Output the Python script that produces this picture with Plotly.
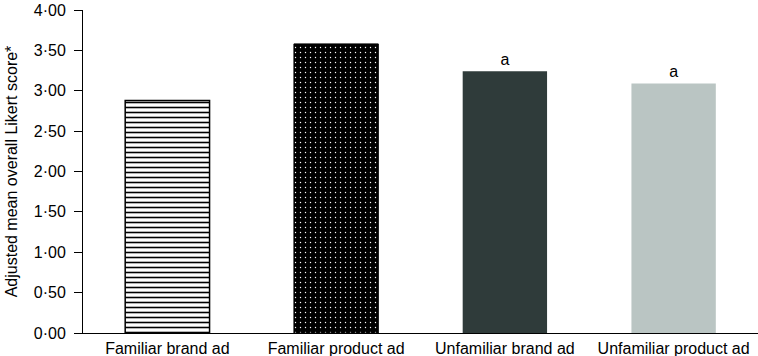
import plotly.graph_objects as go

categories = ["Familiar brand ad", "Familiar product ad", "Unfamiliar brand ad", "Unfamiliar product ad"]
values = [2.88, 3.58, 3.24, 3.09]
labels = ["", "", "a", "a"]
tick_vals = [0, 0.5, 1, 1.5, 2, 2.5, 3, 3.5, 4]
tick_text = ["0·00", "0·50", "1·00", "1·50", "2·00", "2·50", "3·00", "3·50", "4·00"]

bg_colors = ["white", "black", "#2f3b3a", "#bac5c3"]
pattern_shapes = ["-", ".", "", ""]
fg_colors = ["black", "white", "#2f3b3a", "#bac5c3"]
pattern_sizes = [5, 5, 8, 8]
pattern_solidity = [0.32, 0.06, 0.3, 0.3]
line_colors = ["black", "black", "#2f3b3a", "#bac5c3"]
line_widths = [1.5, 1, 0, 0]

FONT = "Liberation Sans, Arial, sans-serif"

fig = go.Figure()
for i, cat in enumerate(categories):
    pattern = dict(shape=pattern_shapes[i], fgcolor=fg_colors[i], bgcolor=bg_colors[i],
                   size=pattern_sizes[i], solidity=pattern_solidity[i], fillmode="replace")
    fig.add_trace(go.Bar(
        x=[cat], y=[values[i]],
        width=0.5,
        text=[labels[i]], textposition="outside", cliponaxis=False,
        textfont=dict(size=16, color="black", family=FONT),
        marker=dict(
            color=bg_colors[i],
            line=dict(color=line_colors[i], width=line_widths[i]),
            pattern=pattern if pattern_shapes[i] else None,
        ),
        showlegend=False,
        hoverinfo="skip",
    ))

fig.update_layout(
    width=758, height=356,
    margin=dict(l=83, r=0, t=10, b=23),
    paper_bgcolor="white", plot_bgcolor="white",
    font=dict(family=FONT, size=16, color="black"),
    showlegend=False,
    barmode="overlay",
)
fig.update_xaxes(
    showline=True, linecolor="black", linewidth=1,
    ticks="", showgrid=False, tickfont=dict(size=16), ticklabelstandoff=1,
)
fig.update_yaxes(
    range=[0, 4], tickvals=tick_vals, ticktext=tick_text,
    showline=True, linecolor="black", linewidth=1,
    ticks="outside", ticklen=8, tickcolor="black", ticklabelstandoff=5,
    showgrid=False, zeroline=False, tickfont=dict(size=16),
    title=dict(text="Adjusted mean overall Likert score*", font=dict(size=16), standoff=12),
)

fig.write_html("out.html", config={"displayModeBar": False},
               post_script="document.body.style.margin='0';")
